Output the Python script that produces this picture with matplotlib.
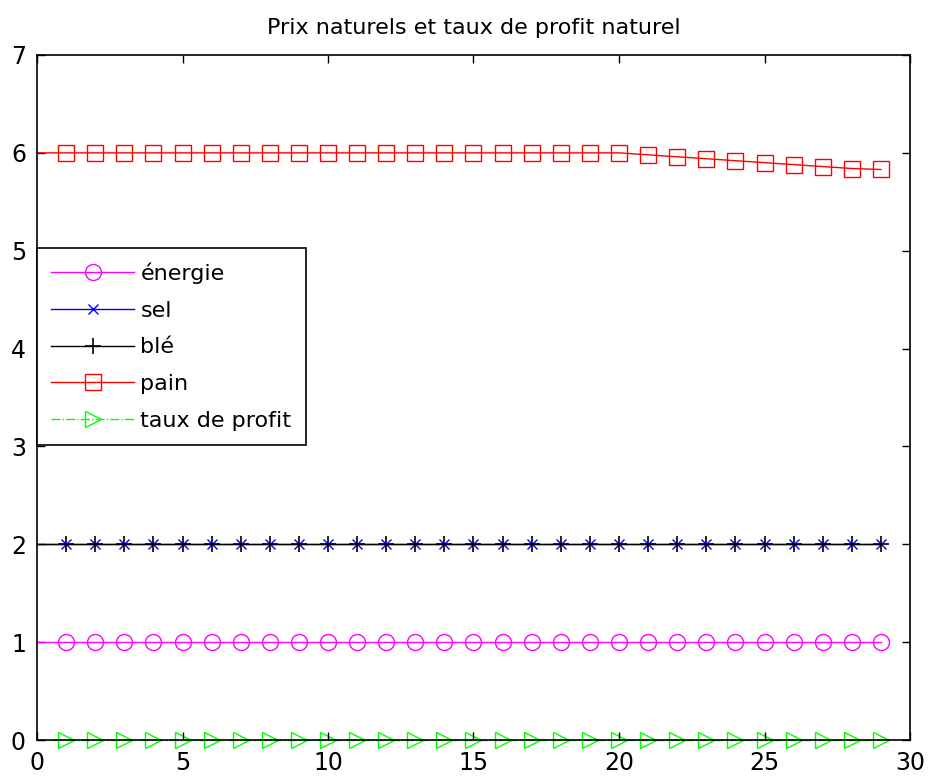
import numpy as np
import matplotlib
matplotlib.use("Agg")
import matplotlib.pyplot as plt

####### data #######
periodes = np.arange(0, 30)
energie = [1.0] * 30
sel = [2.0] * 30
ble = [2.0] * 30
pain = [6.0] * 21 + [5.98, 5.96, 5.94, 5.92, 5.90, 5.88, 5.86, 5.84, 5.83]
taux_profit = [0.0] * 30

plt.rcParams['font.family'] = ['DejaVu Sans']

fig = plt.figure(figsize=(9.31, 7.77), dpi=100)
ax = fig.add_axes([37/931, 1 - 740/777, (910 - 37)/931, (740 - 55)/777])

mk = slice(1, None)  # no marker on the first point
ax.plot(periodes, energie, color='#ff00ff', marker='o', markersize=11.5, mfc='none',
        mew=1, lw=1, markevery=mk, label='énergie')
ax.plot(periodes, sel, color='#0000ff', marker='x', markersize=7.5,
        mew=1, lw=1, markevery=mk, label='sel')
ax.plot(periodes, ble, color='black', marker='+', markersize=11,
        mew=1.2, lw=1, markevery=mk, label='blé')
ax.plot(periodes, pain, color='#ff0000', marker='s', markersize=12, mfc='none',
        mew=1, lw=1, markevery=mk, label='pain')
ax.plot(periodes, taux_profit, color='#00ff00', marker='>', markersize=12, mfc='none',
        mew=1, lw=1, ls='-.', markevery=mk, label='taux de profit', clip_on=False, zorder=1)

ax.set_xlim(0, 30)
ax.set_ylim(0, 7)
ax.set_xticks(np.arange(0, 31, 5))
ax.set_yticks(np.arange(0, 8, 1))
ax.tick_params(direction='in', length=6, width=1, top=True, right=True,
               labelsize=17, pad=8)
for s in ax.spines.values():
    s.set_linewidth(1.2)
    s.set_zorder(5)

ax.set_title('Prix naturels et taux de profit naturel', fontsize=16, pad=15)

leg = ax.legend(loc='upper left', bbox_to_anchor=(0, 0.718), borderaxespad=0,
                fontsize=16, handlelength=3.7, fancybox=False, framealpha=1,
                edgecolor='black', borderpad=0.65, labelspacing=0.75, handletextpad=0.3)
leg.get_frame().set_linewidth(1.2)

fig.savefig('out.png', dpi=100)
